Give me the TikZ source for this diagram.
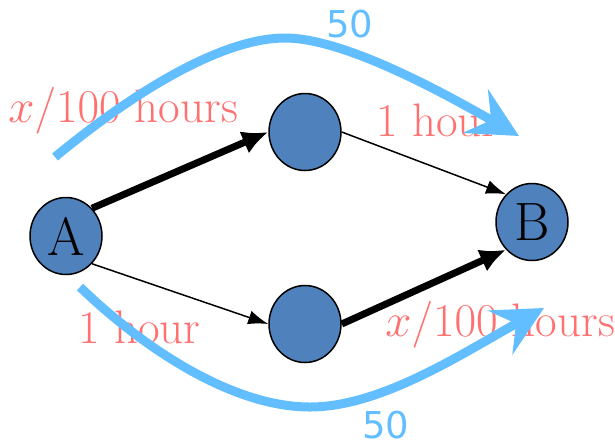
\documentclass[tikz,border=0pt]{standalone}
\usepackage{fix-cm}
\usepackage{fontspec}
\newfontfamily\dejavu{DejaVu Sans}
\usetikzlibrary{shapes.geometric,arrows.meta}
\definecolor{nodeblue}{RGB}{79,129,189}
\definecolor{flowblue}{RGB}{99,190,255}
\definecolor{costred}{RGB}{255,112,112}
\tikzset{
  vertex/.style={ellipse,draw=black,line width=0.75pt,fill=nodeblue,minimum width=36pt,minimum height=38.5pt,inner sep=0pt,font=\fontsize{27}{30}\selectfont},
  heavy/.style={line width=3.5pt,-{Latex[length=13pt,width=12pt]}},
  light/.style={line width=0.75pt,-{Latex[length=10pt,width=7pt]}},
  cost/.style={text=costred,inner sep=0pt,anchor=base west,font=\fontsize{23.5}{26}\selectfont},
  flowlab/.style={text=flowblue,inner sep=0pt,anchor=base west,font=\dejavu\fontsize{18.5}{22}\selectfont},
  flow/.style={draw=flowblue,line width=4.5pt,-{Stealth[length=25pt,width=25pt,inset=9pt]}}
}
\begin{document}
\begin{tikzpicture}[x=0.5pt,y=-0.5pt]
\useasboundingbox (0,0) rectangle (615,446);
\node[vertex] (A) at (66,236) {A};
\node[vertex] (T) at (305,132) {};
\node[vertex] (D) at (305,324) {};
\node[vertex] (B) at (532,222) {B};
\draw[heavy] (A.north east) -- (T.west);
\draw[light] (T.east) -- (B.north west);
\draw[light] (A.south east) -- (D.west);
\draw[heavy] (D.east) -- (B.south west);
\node[cost] (c1) at (8,122) {$x/100$ hours};
\node[cost] (c2) at (376,136) {1 hour};
\node[cost] (c3) at (78,343) {1 hour};
\node[cost] (c4) at (385,336) {$x/100$ hours};
\node[flowlab] (f1) at (326,37) {50};
\node[flowlab] (f2) at (362,438) {50};
\coordinate (s1) at (55,157);
\coordinate (m1) at (285,38);
\coordinate (e1) at (519,136);
\coordinate (s2) at (80,287);
\coordinate (m2) at (310,407);
\coordinate (e2) at (544,308);
\path[flow] (s1) .. controls (130,95) and (220,38) .. (m1) .. controls (340,38) and (430,85) .. (e1);
\path[flow] (s2) .. controls (140,345) and (230,407) .. (m2) .. controls (380,407) and (460,355) .. (e2);
\end{tikzpicture}
\end{document}
